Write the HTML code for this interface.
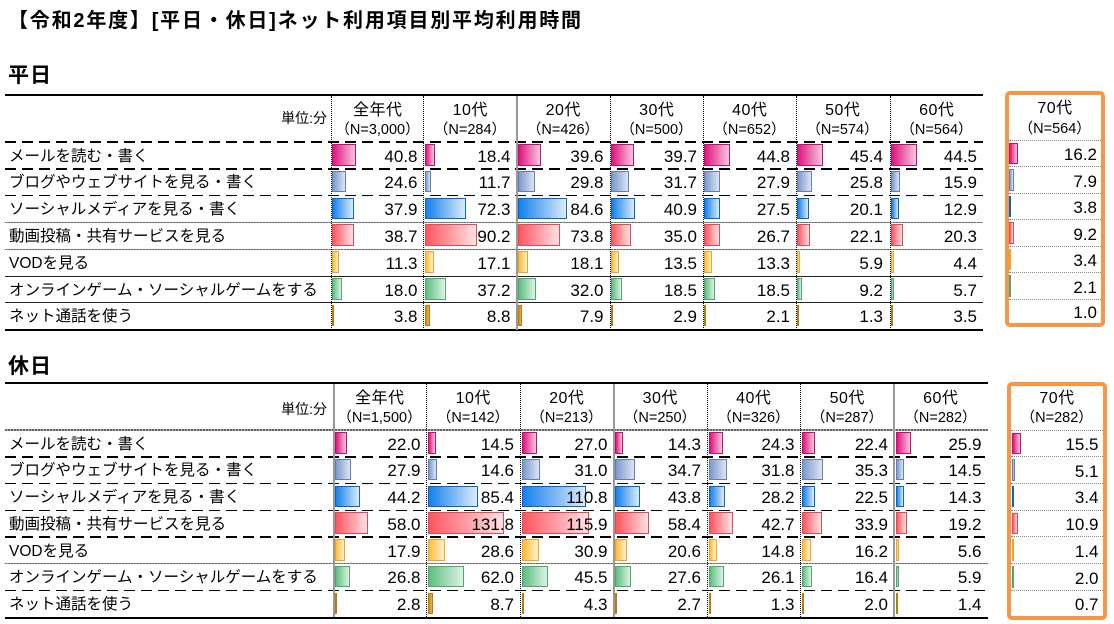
<!DOCTYPE html>
<html lang="ja"><head><meta charset="utf-8">
<style>
*{margin:0;padding:0;box-sizing:border-box}
body{width:1114px;height:624px;background:#fff;position:relative;overflow:hidden;font-family:"Liberation Sans","Noto Sans CJK JP",sans-serif;color:#000}
.t{position:absolute;left:8px;top:7px;font-size:20px;font-weight:bold;letter-spacing:1.8px;line-height:28px;white-space:nowrap}
.hd{position:absolute;left:8px;font-size:21px;font-weight:bold;letter-spacing:1px;line-height:28px}
.r{position:absolute;left:0;width:1114px}
.w .r{height:26.8px;line-height:26.8px}
.h .r{height:26.76px;line-height:26.76px}
.l{position:absolute;left:9px;top:1.5px;font-size:15.5px;white-space:nowrap}
.c{position:absolute;top:0;width:93px;height:100%;text-align:right;padding-right:6px;font-size:17px}
.c span{position:relative;top:1.6px}
.c i{position:absolute;left:1px;top:2px;height:21.5px;border:1.5px solid}
.h .c i{left:1.5px}
.w .k1{left:331px;width:92.5px}.w .k2{left:423.5px}.w .k3{left:516.5px}.w .k4{left:610px}.w .k5{left:703px}.w .k6{left:796px}.w .k7{left:890px}
.h .k1{left:333px;width:93.5px}.h .k2{left:426.5px;width:93.5px}.h .k3{left:520px;width:93.5px}.h .k4{left:613.5px;width:93.5px}.h .k5{left:707px;width:93.5px}.h .k6{left:800.5px;width:93.5px}.h .k7{left:894px;width:93.5px}
.m{border-color:#C0106C!important;background:linear-gradient(90deg,#E0137F,#F7C6DE)}
.s{border-color:#5F7FB5!important;background:linear-gradient(90deg,#7C98CB,#DCE4F2)}
.b{border-color:#0865C8!important;background:linear-gradient(90deg,#1480EC,#DCEBFB)}
.rd{border-color:#E04A56!important;background:linear-gradient(90deg,#FF5560,#FFE2E5)}
.o{border-color:#F0A522!important;background:linear-gradient(90deg,#FFBC38,#FFF0CF)}
.g{border-color:#4FA66E!important;background:linear-gradient(90deg,#5DBE7E,#DDF2E5)}
.d{border-color:#B97A0E!important;background:linear-gradient(90deg,#D08A10,#E8B050)}
.hc{position:absolute;width:93px;height:47px;text-align:center}
.hc b{position:absolute;left:0;width:100%;font-weight:normal;height:20px;line-height:20px;white-space:nowrap}
.hc b.a{top:5.5px;font-size:16px;letter-spacing:0.5px;padding-left:0.5px}
.hc b.n{top:25px;font-size:14.5px}
.un{position:absolute;right:787px;font-size:14px;line-height:20px;white-space:nowrap}
.hl{position:absolute;left:5px;height:1.5px}
.dl{background:repeating-linear-gradient(90deg,#000 0 11px,transparent 11px 17px)}
.gl{background:repeating-linear-gradient(90deg,#666 0 2px,#aaa 2px 3px);height:1.3px}
.tl{background:#222;height:1px}
.th{background:#000;height:2.2px}
.vd{position:absolute;width:1px;border-left:1.2px dotted #000}
.vs{position:absolute;width:2px;background:#999}
.bx{position:absolute;border:4.5px solid #F79646;border-radius:5px;background:#fff}
.bx .hc{left:0;width:100%;top:0}
.br{position:absolute;left:0;width:100%;border-top:1.3px dotted #888}
.br .c{left:0;width:100%;padding-right:4px}
.br .c i{left:0.5px}
</style></head><body>

<div class="t">【令和2年度】[平日・休日]ネット利用項目別平均利用時間</div>
<div class="hd" style="top:62px">平日</div>
<div class="hd" style="top:353px">休日</div>

<!-- ===== 平日 ===== -->
<div class="w">
<div class="hl th" style="top:94px;width:978px"></div>
<div class="un" style="top:108px">単位:分</div>
<div class="hc" style="left:331px;top:95px"><b class="a">全年代</b><b class="n">（N=3,000）</b></div>
<div class="hc" style="left:423.5px;top:95px"><b class="a">10代</b><b class="n">（N=284）</b></div>
<div class="hc" style="left:516.5px;top:95px"><b class="a">20代</b><b class="n">（N=426）</b></div>
<div class="hc" style="left:610px;top:95px"><b class="a">30代</b><b class="n">（N=500）</b></div>
<div class="hc" style="left:703px;top:95px"><b class="a">40代</b><b class="n">（N=652）</b></div>
<div class="hc" style="left:796px;top:95px"><b class="a">50代</b><b class="n">（N=574）</b></div>
<div class="hc" style="left:890px;top:95px"><b class="a">60代</b><b class="n">（N=564）</b></div>

<div class="hl dl" style="top:141.3px;width:978px"></div>
<div class="hl dl" style="top:168px;width:978px"></div>
<div class="hl dl" style="top:194.8px;width:978px"></div>
<div class="hl gl" style="top:221.7px;width:978px"></div>
<div class="hl gl" style="top:248.5px;width:978px"></div>
<div class="hl tl" style="top:275.5px;width:978px"></div>
<div class="hl tl" style="top:302.3px;width:978px"></div>
<div class="hl th" style="top:329px;width:978px"></div>

<div class="vd" style="left:330.5px;top:96px;height:234px"></div>
<div class="vd" style="left:423px;top:96px;height:234px"></div>
<div class="vs" style="left:515.5px;top:96px;height:234px"></div>
<div class="vd" style="left:609.5px;top:96px;height:234px"></div>
<div class="vd" style="left:702.5px;top:96px;height:234px"></div>
<div class="vd" style="left:795.5px;top:96px;height:234px"></div>
<div class="vd" style="left:889.5px;top:96px;height:234px"></div>

<div class="r" style="top:142px"><div class="l">メールを読む・書く</div>
<div class="c k1"><i class="m" style="width:23.7px"></i><span>40.8</span></div>
<div class="c k2"><i class="m" style="width:10.7px"></i><span>18.4</span></div>
<div class="c k3"><i class="m" style="width:23px"></i><span>39.6</span></div>
<div class="c k4"><i class="m" style="width:23px"></i><span>39.7</span></div>
<div class="c k5"><i class="m" style="width:26px"></i><span>44.8</span></div>
<div class="c k6"><i class="m" style="width:26.3px"></i><span>45.4</span></div>
<div class="c k7"><i class="m" style="width:25.8px"></i><span>44.5</span></div>
</div>
<div class="r" style="top:168.8px"><div class="l">ブログやウェブサイトを見る・書く</div>
<div class="c k1"><i class="s" style="width:14.3px"></i><span>24.6</span></div>
<div class="c k2"><i class="s" style="width:6.8px"></i><span>11.7</span></div>
<div class="c k3"><i class="s" style="width:17.3px"></i><span>29.8</span></div>
<div class="c k4"><i class="s" style="width:18.4px"></i><span>31.7</span></div>
<div class="c k5"><i class="s" style="width:16.2px"></i><span>27.9</span></div>
<div class="c k6"><i class="s" style="width:15px"></i><span>25.8</span></div>
<div class="c k7"><i class="s" style="width:9.2px"></i><span>15.9</span></div>
</div>
<div class="r" style="top:195.6px"><div class="l">ソーシャルメディアを見る・書く</div>
<div class="c k1"><i class="b" style="width:22px"></i><span>37.9</span></div>
<div class="c k2"><i class="b" style="width:41.9px"></i><span>72.3</span></div>
<div class="c k3"><i class="b" style="width:49.1px"></i><span>84.6</span></div>
<div class="c k4"><i class="b" style="width:23.7px"></i><span>40.9</span></div>
<div class="c k5"><i class="b" style="width:16px"></i><span>27.5</span></div>
<div class="c k6"><i class="b" style="width:11.7px"></i><span>20.1</span></div>
<div class="c k7"><i class="b" style="width:7.5px"></i><span>12.9</span></div>
</div>
<div class="r" style="top:222.4px"><div class="l">動画投稿・共有サービスを見る</div>
<div class="c k1"><i class="rd" style="width:22.4px"></i><span>38.7</span></div>
<div class="c k2"><i class="rd" style="width:52.3px"></i><span>90.2</span></div>
<div class="c k3"><i class="rd" style="width:42.8px"></i><span>73.8</span></div>
<div class="c k4"><i class="rd" style="width:20.3px"></i><span>35.0</span></div>
<div class="c k5"><i class="rd" style="width:15.5px"></i><span>26.7</span></div>
<div class="c k6"><i class="rd" style="width:12.8px"></i><span>22.1</span></div>
<div class="c k7"><i class="rd" style="width:11.8px"></i><span>20.3</span></div>
</div>
<div class="r" style="top:249.2px"><div class="l">VODを見る</div>
<div class="c k1"><i class="o" style="width:6.6px"></i><span>11.3</span></div>
<div class="c k2"><i class="o" style="width:9.9px"></i><span>17.1</span></div>
<div class="c k3"><i class="o" style="width:10.5px"></i><span>18.1</span></div>
<div class="c k4"><i class="o" style="width:7.8px"></i><span>13.5</span></div>
<div class="c k5"><i class="o" style="width:7.7px"></i><span>13.3</span></div>
<div class="c k6"><i class="o" style="width:3.4px"></i><span>5.9</span></div>
<div class="c k7"><i class="o" style="width:2.6px"></i><span>4.4</span></div>
</div>
<div class="r" style="top:276px"><div class="l">オンラインゲーム・ソーシャルゲームをする</div>
<div class="c k1"><i class="g" style="width:10.4px"></i><span>18.0</span></div>
<div class="c k2"><i class="g" style="width:21.6px"></i><span>37.2</span></div>
<div class="c k3"><i class="g" style="width:18.6px"></i><span>32.0</span></div>
<div class="c k4"><i class="g" style="width:10.7px"></i><span>18.5</span></div>
<div class="c k5"><i class="g" style="width:10.7px"></i><span>18.5</span></div>
<div class="c k6"><i class="g" style="width:5.3px"></i><span>9.2</span></div>
<div class="c k7"><i class="g" style="width:3.3px"></i><span>5.7</span></div>
</div>
<div class="r" style="top:302.8px"><div class="l">ネット通話を使う</div>
<div class="c k1"><i class="d" style="width:2.2px"></i><span>3.8</span></div>
<div class="c k2"><i class="d" style="width:5.1px"></i><span>8.8</span></div>
<div class="c k3"><i class="d" style="width:4.6px"></i><span>7.9</span></div>
<div class="c k4"><i class="d" style="width:1.7px"></i><span>2.9</span></div>
<div class="c k5"><i class="d" style="width:1.5px"></i><span>2.1</span></div>
<div class="c k6"><i class="d" style="width:1.5px"></i><span>1.3</span></div>
<div class="c k7"><i class="d" style="width:2px"></i><span>3.5</span></div>
</div>

<div class="bx" style="left:1004.5px;top:91px;width:100.5px;height:236px">
<div class="hc" style="top:-1.5px"><b class="a">70代</b><b class="n">（N=564）</b></div>
<div class="br" style="top:44.5px;height:26.55px;line-height:26.55px"><div class="c"><i class="m" style="width:9.4px"></i><span>16.2</span></div></div>
<div class="br" style="top:71.05px;height:26.55px;line-height:26.55px"><div class="c"><i class="s" style="width:4.6px"></i><span>7.9</span></div></div>
<div class="br" style="top:97.6px;height:26.55px;line-height:26.55px"><div class="c"><i class="b" style="width:2.2px"></i><span>3.8</span></div></div>
<div class="br" style="top:124.15px;height:26.55px;line-height:26.55px"><div class="c"><i class="rd" style="width:5.3px"></i><span>9.2</span></div></div>
<div class="br" style="top:150.7px;height:26.55px;line-height:26.55px"><div class="c"><i class="o" style="width:2px"></i><span>3.4</span></div></div>
<div class="br" style="top:177.25px;height:26.55px;line-height:26.55px"><div class="c"><i class="g" style="width:1.5px"></i><span>2.1</span></div></div>
<div class="br" style="top:203.8px;height:24px;line-height:24px"><div class="c"><span>1.0</span></div></div>
</div>
</div>

<!-- ===== 休日 ===== -->
<div class="h">
<div class="hl th" style="top:382px;width:983px"></div>
<div class="un" style="top:399px">単位:分</div>
<div class="hc" style="left:333px;top:383px"><b class="a">全年代</b><b class="n">（N=1,500）</b></div>
<div class="hc" style="left:426.5px;top:383px"><b class="a">10代</b><b class="n">（N=142）</b></div>
<div class="hc" style="left:520px;top:383px"><b class="a">20代</b><b class="n">（N=213）</b></div>
<div class="hc" style="left:613.5px;top:383px"><b class="a">30代</b><b class="n">（N=250）</b></div>
<div class="hc" style="left:707px;top:383px"><b class="a">40代</b><b class="n">（N=326）</b></div>
<div class="hc" style="left:800.5px;top:383px"><b class="a">50代</b><b class="n">（N=287）</b></div>
<div class="hc" style="left:894px;top:383px"><b class="a">60代</b><b class="n">（N=282）</b></div>

<div class="hl gl" style="top:429.3px;width:983px"></div>
<div class="hl dl" style="top:456px;width:983px"></div>
<div class="hl dl" style="top:482.8px;width:983px"></div>
<div class="hl dl" style="top:509.6px;width:983px"></div>
<div class="hl dl" style="top:536.3px;width:983px"></div>
<div class="hl gl" style="top:563.1px;width:983px"></div>
<div class="hl dl" style="top:589.9px;width:983px"></div>
<div class="hl th" style="top:616.5px;width:983px"></div>

<div class="vs" style="left:332.5px;top:384px;height:233px"></div>
<div class="vd" style="left:426px;top:384px;height:233px"></div>
<div class="vd" style="left:519.5px;top:384px;height:233px"></div>
<div class="vs" style="left:612.5px;top:384px;height:233px"></div>
<div class="vd" style="left:706.5px;top:384px;height:233px"></div>
<div class="vd" style="left:800px;top:384px;height:233px"></div>
<div class="vs" style="left:893px;top:384px;height:233px"></div>

<div class="r" style="top:430px"><div class="l">メールを読む・書く</div>
<div class="c k1"><i class="m" style="width:12.8px"></i><span>22.0</span></div>
<div class="c k2"><i class="m" style="width:8.4px"></i><span>14.5</span></div>
<div class="c k3"><i class="m" style="width:15.7px"></i><span>27.0</span></div>
<div class="c k4"><i class="m" style="width:8.3px"></i><span>14.3</span></div>
<div class="c k5"><i class="m" style="width:14.1px"></i><span>24.3</span></div>
<div class="c k6"><i class="m" style="width:13px"></i><span>22.4</span></div>
<div class="c k7"><i class="m" style="width:15px"></i><span>25.9</span></div>
</div>
<div class="r" style="top:456.76px"><div class="l">ブログやウェブサイトを見る・書く</div>
<div class="c k1"><i class="s" style="width:16.2px"></i><span>27.9</span></div>
<div class="c k2"><i class="s" style="width:8.5px"></i><span>14.6</span></div>
<div class="c k3"><i class="s" style="width:18px"></i><span>31.0</span></div>
<div class="c k4"><i class="s" style="width:20.1px"></i><span>34.7</span></div>
<div class="c k5"><i class="s" style="width:18.4px"></i><span>31.8</span></div>
<div class="c k6"><i class="s" style="width:20.5px"></i><span>35.3</span></div>
<div class="c k7"><i class="s" style="width:8.4px"></i><span>14.5</span></div>
</div>
<div class="r" style="top:483.52px"><div class="l">ソーシャルメディアを見る・書く</div>
<div class="c k1"><i class="b" style="width:25.6px"></i><span>44.2</span></div>
<div class="c k2"><i class="b" style="width:49.5px"></i><span>85.4</span></div>
<div class="c k3"><i class="b" style="width:64.3px"></i><span>110.8</span></div>
<div class="c k4"><i class="b" style="width:25.4px"></i><span>43.8</span></div>
<div class="c k5"><i class="b" style="width:16.4px"></i><span>28.2</span></div>
<div class="c k6"><i class="b" style="width:13.1px"></i><span>22.5</span></div>
<div class="c k7"><i class="b" style="width:8.3px"></i><span>14.3</span></div>
</div>
<div class="r" style="top:510.28px"><div class="l">動画投稿・共有サービスを見る</div>
<div class="c k1"><i class="rd" style="width:33.6px"></i><span>58.0</span></div>
<div class="c k2"><i class="rd" style="width:76.4px"></i><span>131.8</span></div>
<div class="c k3"><i class="rd" style="width:67.2px"></i><span>115.9</span></div>
<div class="c k4"><i class="rd" style="width:33.9px"></i><span>58.4</span></div>
<div class="c k5"><i class="rd" style="width:24.8px"></i><span>42.7</span></div>
<div class="c k6"><i class="rd" style="width:19.7px"></i><span>33.9</span></div>
<div class="c k7"><i class="rd" style="width:11.1px"></i><span>19.2</span></div>
</div>
<div class="r" style="top:537.04px"><div class="l">VODを見る</div>
<div class="c k1"><i class="o" style="width:10.4px"></i><span>17.9</span></div>
<div class="c k2"><i class="o" style="width:16.6px"></i><span>28.6</span></div>
<div class="c k3"><i class="o" style="width:17.9px"></i><span>30.9</span></div>
<div class="c k4"><i class="o" style="width:11.9px"></i><span>20.6</span></div>
<div class="c k5"><i class="o" style="width:8.6px"></i><span>14.8</span></div>
<div class="c k6"><i class="o" style="width:9.4px"></i><span>16.2</span></div>
<div class="c k7"><i class="o" style="width:3.2px"></i><span>5.6</span></div>
</div>
<div class="r" style="top:563.8px"><div class="l">オンラインゲーム・ソーシャルゲームをする</div>
<div class="c k1"><i class="g" style="width:15.5px"></i><span>26.8</span></div>
<div class="c k2"><i class="g" style="width:36px"></i><span>62.0</span></div>
<div class="c k3"><i class="g" style="width:26.4px"></i><span>45.5</span></div>
<div class="c k4"><i class="g" style="width:16px"></i><span>27.6</span></div>
<div class="c k5"><i class="g" style="width:15.1px"></i><span>26.1</span></div>
<div class="c k6"><i class="g" style="width:9.5px"></i><span>16.4</span></div>
<div class="c k7"><i class="g" style="width:3.4px"></i><span>5.9</span></div>
</div>
<div class="r" style="top:590.56px"><div class="l">ネット通話を使う</div>
<div class="c k1"><i class="d" style="width:1.6px"></i><span>2.8</span></div>
<div class="c k2"><i class="d" style="width:5px"></i><span>8.7</span></div>
<div class="c k3"><i class="d" style="width:2.5px"></i><span>4.3</span></div>
<div class="c k4"><i class="d" style="width:1.6px"></i><span>2.7</span></div>
<div class="c k5"><i class="d" style="width:1.5px"></i><span>1.3</span></div>
<div class="c k6"><i class="d" style="width:1.5px"></i><span>2.0</span></div>
<div class="c k7"><i class="d" style="width:1.5px"></i><span>1.4</span></div>
</div>

<div class="bx" style="left:1007px;top:381.5px;width:99.5px;height:238px">
<div class="hc" style="top:-2.5px"><b class="a">70代</b><b class="n">（N=282）</b></div>
<div class="br" style="top:44px;height:26.7px;line-height:26.7px"><div class="c"><i class="m" style="width:9px"></i><span>15.5</span></div></div>
<div class="br" style="top:70.7px;height:26.7px;line-height:26.7px"><div class="c"><i class="s" style="width:3px"></i><span>5.1</span></div></div>
<div class="br" style="top:97.4px;height:26.7px;line-height:26.7px"><div class="c"><i class="b" style="width:2px"></i><span>3.4</span></div></div>
<div class="br" style="top:124.1px;height:26.7px;line-height:26.7px"><div class="c"><i class="rd" style="width:6.3px"></i><span>10.9</span></div></div>
<div class="br" style="top:150.8px;height:26.7px;line-height:26.7px"><div class="c"><i class="o" style="width:1.5px"></i><span>1.4</span></div></div>
<div class="br" style="top:177.5px;height:26.7px;line-height:26.7px"><div class="c"><i class="g" style="width:1.5px"></i><span>2.0</span></div></div>
<div class="br" style="top:204.2px;height:25px;line-height:26px"><div class="c"><span>0.7</span></div></div>
</div>
</div>

</body></html>
